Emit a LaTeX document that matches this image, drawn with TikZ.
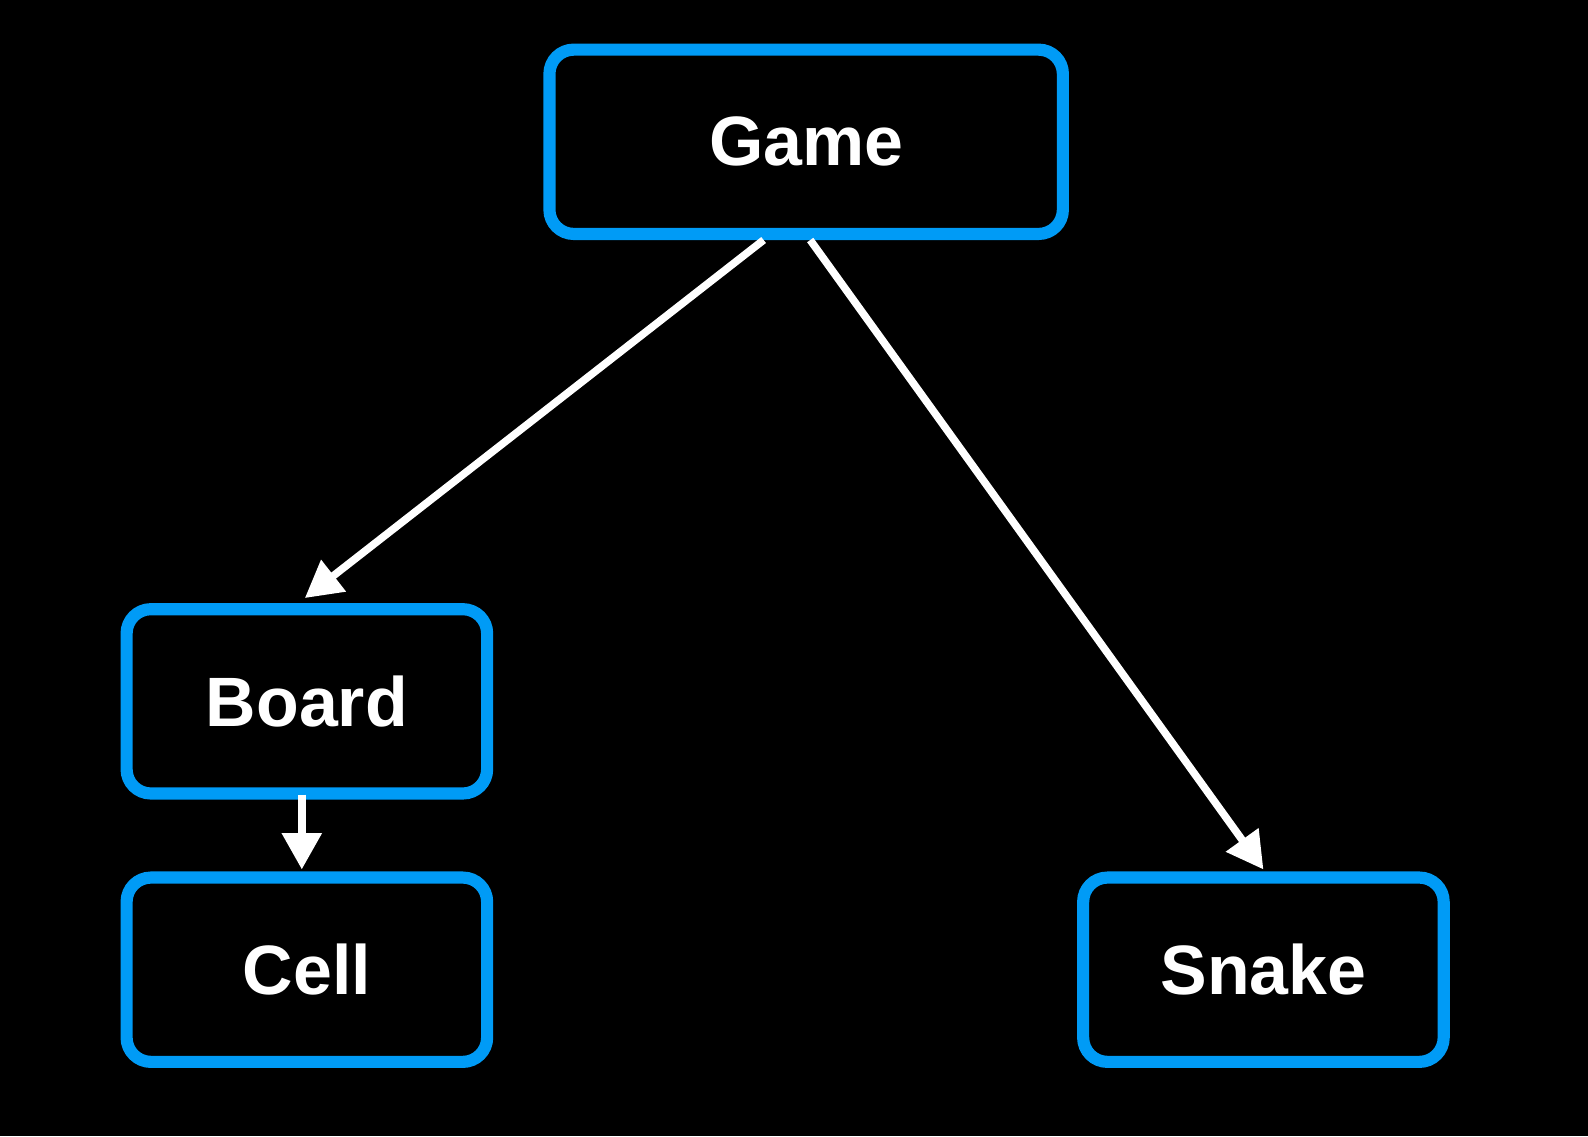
\documentclass[tikz,border=0pt]{standalone}
\usepackage{fontspec}
\setmainfont{Liberation Sans}
\usepackage{tikz}
\usetikzlibrary{arrows.meta}
\definecolor{boxblue}{RGB}{0,155,246}

\begin{document}
\begin{tikzpicture}[x=1pt,y=-1pt,
    classbox/.style={rectangle,draw=boxblue,line width=12pt,rounded corners=24pt,
                     fill=black,text=white,inner sep=0pt,
                     font=\fontsize{69}{80}\selectfont\bfseries,
                     minimum width=356pt,minimum height=182pt},
    link/.style={draw=white,line width=7.5pt,-{Triangle[width=38pt,length=36pt]}},
   ]
  \fill[black] (0,0) rectangle (1568,1122);
  \useasboundingbox (0,0) rectangle (1568,1122);

  % classes
  \node[classbox,minimum width=507pt] (game) at (796,140) {Game};
  \node[classbox] (board) at (303,692.5) {Board};
  \node[classbox] (cell) at (303,957.5) {Cell};
  \node[classbox] (snake) at (1247.5,957.5) {Snake};

  % links
  \draw[link] ([xshift=-42pt]game.south) -- ([xshift=-2pt,yshift=5pt]board.north);
  \draw[link] ([xshift=4pt]game.south) -- ([yshift=2pt]snake.north);
  \draw[link] ([xshift=-5pt,yshift=5pt]board.south) -- ([xshift=-5pt,yshift=2pt]cell.north);
\end{tikzpicture}
\end{document}
